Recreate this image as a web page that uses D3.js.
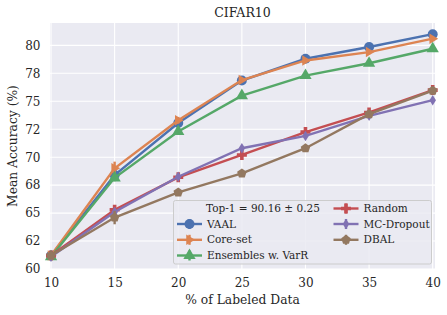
<!DOCTYPE html>
<html>
<head>
<meta charset="utf-8">
<script src="https://cdn.jsdelivr.net/npm/d3@7"></script>
<style>
  body { margin: 0; background: #fff; }
  svg text { font-family: "DejaVu Serif", "Liberation Serif", serif; fill: #262626; }
</style>
</head>
<body>
<div id="chart"></div>
<script>
// values
var xs = [10, 15, 20, 25, 30, 35, 40];
var yTicks = [60, 62.5, 65, 67.5, 70, 72.5, 75, 77.5, 80];
var yTickLabels = ["60", "62", "65", "68", "70", "72", "75", "78", "80"];

var vaal = [61.2, 68.4, 73.05, 76.85, 78.8, 79.85, 81.0];
var coreset = [61.2, 69.0, 73.3, 76.9, 78.65, 79.4, 80.6];
var ensembles = [61.1, 68.15, 72.3, 75.5, 77.3, 78.4, 79.7];
var random = [61.2, 65.3, 68.2, 70.2, 72.25, 74.0, 76.0];
var mcdropout = [61.1, 65.1, 68.25, 70.8, 71.9, 73.7, 75.1];
var dbal = [61.2, 64.6, 66.85, 68.55, 70.8, 73.85, 75.95];

var errVaal = [0.2, 0.3, 0.2, 0.2, 0.2, 0.2, 0.2];
var errCoreset = [0.2, 0.6, 0.3, 0.2, 0.2, 0.2, 0.2];
var errEnsembles = [0.2, 0.3, 0.2, 0.2, 0.2, 0.2, 0.2];
var errRandom = [0.2, 0.4, 0.2, 0.2, 0.2, 0.2, 0.2];
var errMc = [0.2, 0.3, 0.2, 0.2, 0.2, 0.2, 0.2];
var errDbal = [0.2, 0.6, 0.2, 0.2, 0.2, 0.2, 0.2];

var series = [
  {name: "VAAL", values: vaal, err: errVaal, color: "#4C72B0", marker: "circle"},
  {name: "Core-set", values: coreset, err: errCoreset, color: "#DD8452", marker: "right"},
  {name: "Ensembles w. VarR", values: ensembles, err: errEnsembles, color: "#55A868", marker: "up"},
  {name: "Random", values: random, err: errRandom, color: "#C44E52", marker: "plus"},
  {name: "MC-Dropout", values: mcdropout, err: errMc, color: "#8172B3", marker: "diamond"},
  {name: "DBAL", values: dbal, err: errDbal, color: "#937860", marker: "pentagon"}
];

var W = 447, H = 315;
var pLeft = 50, pRight = 435, pTop = 23, pBottom = 269;
var FONT = "DejaVu Serif, Liberation Serif, serif";

var svg = d3.select("#chart").append("svg")
  .attr("width", W).attr("height", H);

var x = d3.scaleLinear().domain([9.92, 40.18]).range([pLeft, pRight]);
var y = d3.scaleLinear().domain([60, 82]).range([pBottom, pTop]);

// background + grid
svg.append("rect")
  .attr("x", pLeft).attr("y", pTop)
  .attr("width", pRight - pLeft).attr("height", pBottom - pTop)
  .attr("fill", "#EAEAF2");

svg.append("g").selectAll("line")
  .data(xs).enter().append("line")
  .attr("x1", d => x(d)).attr("x2", d => x(d))
  .attr("y1", pTop).attr("y2", pBottom)
  .attr("stroke", "#fff").attr("stroke-width", 1.1);

svg.append("g").selectAll("line")
  .data(yTicks).enter().append("line")
  .attr("x1", pLeft).attr("x2", pRight)
  .attr("y1", d => y(d)).attr("y2", d => y(d))
  .attr("stroke", "#fff").attr("stroke-width", 1.1);

// axes (labels only)
var xAxis = svg.append("g")
  .attr("transform", "translate(0," + pBottom + ")")
  .call(d3.axisBottom(x).tickValues(xs).tickSize(0).tickPadding(9.5));
xAxis.select(".domain").remove();
xAxis.attr("font-family", FONT).attr("font-size", 12);
xAxis.selectAll("text").attr("fill", "#262626");

var yAxis = svg.append("g")
  .attr("transform", "translate(" + pLeft + ",0)")
  .call(d3.axisLeft(y).tickValues(yTicks)
    .tickFormat((d, i) => yTickLabels[i]).tickSize(0).tickPadding(9.5));
yAxis.select(".domain").remove();
yAxis.attr("font-family", FONT).attr("font-size", 12);
yAxis.selectAll("text").attr("fill", "#262626");

// titles
svg.append("text")
  .attr("x", (pLeft + pRight) / 2).attr("y", 17)
  .attr("text-anchor", "middle").attr("font-size", 12.5)
  .text("CIFAR10");

svg.append("text")
  .attr("x", (pLeft + pRight) / 2).attr("y", 304)
  .attr("text-anchor", "middle").attr("font-size", 12.3)
  .text("% of Labeled Data");

svg.append("text")
  .attr("transform", "translate(16.5," + ((pTop + pBottom) / 2) + ") rotate(-90)")
  .attr("text-anchor", "middle").attr("font-size", 12.3)
  .text("Mean Accuracy (%)");

// marker shapes
function markerPath(kind, r) {
  if (kind === "circle") return d3.symbol(d3.symbolCircle, Math.PI * r * r)();
  if (kind === "up") return d3.symbol(d3.symbolTriangle, r * r * 2.6)();
  if (kind === "right") {
    return "M" + (r * 1.1) + ",0L" + (-r * 0.65) + "," + (-r * 1.05) + "L" + (-r * 0.65) + "," + (r * 1.05) + "Z";
  }
  if (kind === "plus") {
    var a = r, b = r * 0.36;
    return "M" + (-b) + "," + (-a) + "H" + b + "V" + (-b) + "H" + a + "V" + b + "H" + b +
      "V" + a + "H" + (-b) + "V" + b + "H" + (-a) + "V" + (-b) + "H" + (-b) + "Z";
  }
  if (kind === "diamond") {
    return "M0," + (-r * 1.05) + "L" + (r * 0.65) + ",0L0," + (r * 1.05) + "L" + (-r * 0.65) + ",0Z";
  }
  if (kind === "pentagon") {
    var pts = d3.range(5).map(function(i) {
      var ang = -Math.PI / 2 + i * 2 * Math.PI / 5;
      return [r * Math.cos(ang), r * Math.sin(ang)];
    });
    return "M" + pts.join("L") + "Z";
  }
}

var line = d3.line()
  .x(function(d, i) { return x(xs[i]); })
  .y(function(d) { return y(d); });

series.forEach(function(s) {
  var g = svg.append("g");
  g.append("path")
    .attr("d", line(s.values))
    .attr("fill", "none")
    .attr("stroke", s.color)
    .attr("stroke-width", 2.4);
  g.selectAll("line.err")
    .data(s.values).enter().append("line")
    .attr("class", "err")
    .attr("x1", (d, i) => x(xs[i])).attr("x2", (d, i) => x(xs[i]))
    .attr("y1", (d, i) => y(d - s.err[i])).attr("y2", (d, i) => y(d + s.err[i]))
    .attr("stroke", s.color).attr("stroke-width", 2.4);
  g.selectAll("path.mk")
    .data(s.values).enter().append("path")
    .attr("class", "mk")
    .attr("transform", (d, i) => "translate(" + x(xs[i]) + "," + y(d) + ")")
    .attr("d", markerPath(s.marker, 5))
    .attr("fill", s.color);
});

// legend
var lg = svg.append("g");
lg.append("rect")
  .attr("x", 173.5).attr("y", 200.5)
  .attr("width", 258).attr("height", 63.5)
  .attr("rx", 2)
  .attr("fill", "#EAEAF2").attr("fill-opacity", 0.85)
  .attr("stroke", "#CCCCCC").attr("stroke-width", 1);

var rowY = [208.5, 224, 239.8, 255.5];
var legendItems = [
  {col: 0, row: 1, s: series[0]},
  {col: 0, row: 2, s: series[1]},
  {col: 0, row: 3, s: series[2]},
  {col: 1, row: 0, s: series[3]},
  {col: 1, row: 1, s: series[4]},
  {col: 1, row: 2, s: series[5]}
];
var colX = [177, 333.5];

lg.append("text")
  .attr("x", 206).attr("y", rowY[0]).attr("dy", "0.35em")
  .attr("font-size", 10.5)
  .text("Top-1 = 90.16 \u00b1 0.25");

legendItems.forEach(function(it) {
  var x0 = colX[it.col], yy = rowY[it.row];
  lg.append("line")
    .attr("x1", x0).attr("x2", x0 + 25)
    .attr("y1", yy).attr("y2", yy)
    .attr("stroke", it.s.color).attr("stroke-width", 2.4);
  lg.append("line")
    .attr("x1", x0 + 12.5).attr("x2", x0 + 12.5)
    .attr("y1", yy - 5).attr("y2", yy + 5)
    .attr("stroke", it.s.color).attr("stroke-width", 2.4);
  lg.append("path")
    .attr("transform", "translate(" + (x0 + 12.5) + "," + yy + ")")
    .attr("d", markerPath(it.s.marker, 5))
    .attr("fill", it.s.color);
  lg.append("text")
    .attr("x", x0 + 30).attr("y", yy).attr("dy", "0.35em")
    .attr("font-size", 10.5)
    .text(it.s.name);
});
</script>
</body>
</html>
